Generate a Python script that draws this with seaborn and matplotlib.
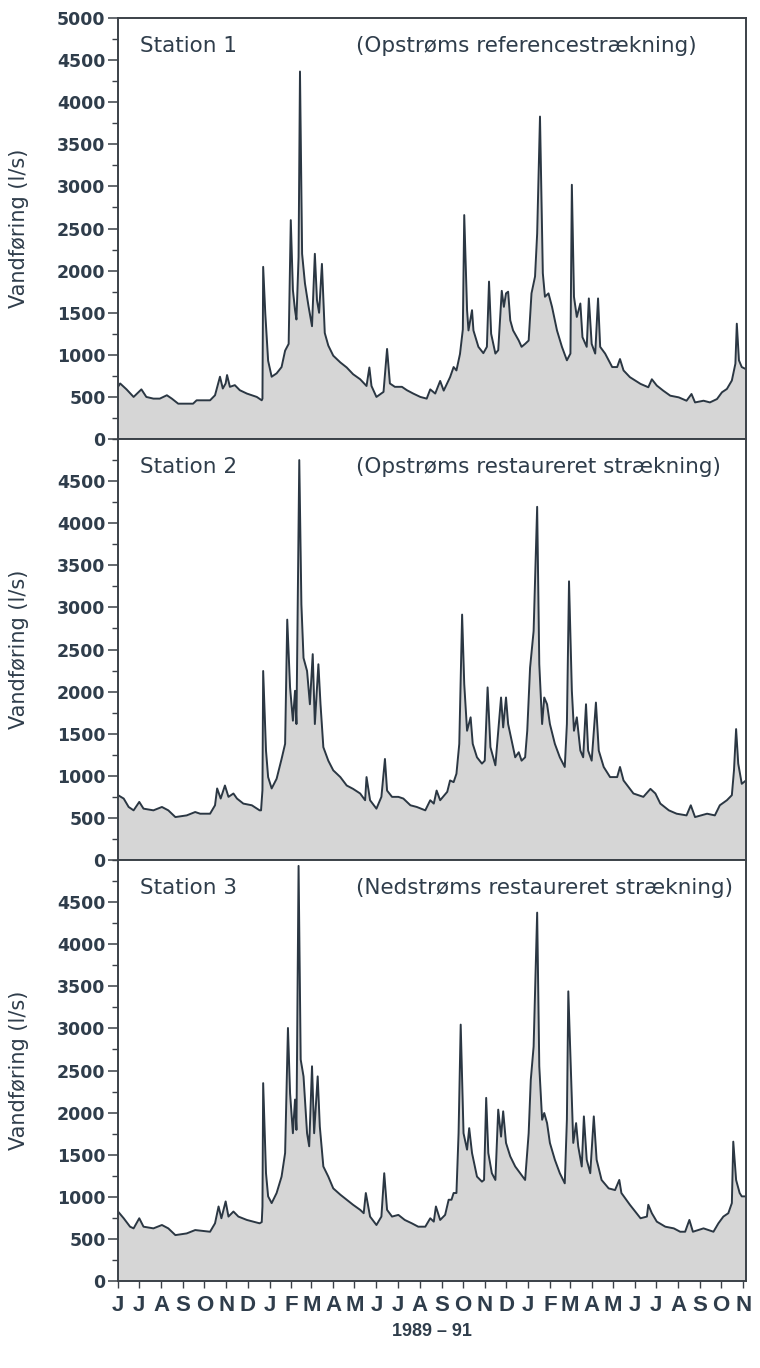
import numpy as np
import pandas as pd
import matplotlib
matplotlib.use("Agg")
import matplotlib.pyplot as plt
import matplotlib.dates as mdates
from matplotlib.ticker import MultipleLocator, FixedLocator, FuncFormatter
import seaborn as sns

# Måleperiode: dage regnes fra 1. juni 1989
start = pd.Timestamp("1989-06-01")
slut = pd.Timestamp("1991-11-05")

stationer = ["Station 1", "Station 2", "Station 3"]
strækninger = [
    "(Opstrøms referencestrækning)",
    "(Opstrøms restaureret strækning)",
    "(Nedstrøms restaureret strækning)",
]
måned_bogstaver = ["J", "F", "M", "A", "M", "J", "J", "A", "S", "O", "N", "D"]
årstal = "1989 – 91"

# Station 1: dag efter start og vandføring (l/s)
dag_1 = [0, 3, 12, 22, 33, 40, 50, 59, 69, 76, 85, 106, 111, 130, 137, 144, 148, 152,
         154, 158, 165, 172, 182, 196, 203, 204, 205, 208, 212, 217, 224, 231, 236, 241,
         244, 247, 250, 252, 255, 257, 260, 264, 269, 274, 278, 281, 284, 288, 292, 297,
         304, 314, 323, 332, 342, 351, 355, 358, 365, 375, 380, 384, 391, 401, 408, 417,
         427, 436, 441, 448, 455, 460, 469, 474, 478, 483, 487, 489, 493, 495, 500, 502,
         509, 516, 521, 524, 527, 533, 537, 542, 545, 548, 551, 554, 558, 566, 570, 575,
         580, 584, 589, 592, 596, 600, 603, 608, 613, 620, 627, 634, 639, 641, 644, 648,
         653, 656, 662, 665, 669, 674, 678, 681, 688, 698, 705, 709, 714, 723, 738, 749,
         754, 761, 770, 780, 792, 803, 810, 815, 827, 836, 846, 853, 860, 867, 872, 874,
         877, 881, 887]
flow_1 = [620, 660, 590, 500, 590, 500, 480, 480, 520, 480, 420, 420, 460, 460, 520, 740,
          600, 660, 760, 620, 640, 580, 540, 500, 460, 480, 2045, 1490, 930, 740, 780, 855,
          1050, 1130, 2600, 1770, 1530, 1420, 2160, 4365, 2200, 1850, 1580, 1340, 2200,
          1650, 1500, 2080, 1260, 1110, 990, 910, 850, 770, 710, 630, 850, 630, 500, 560,
          1070, 660, 620, 620, 580, 540, 500, 480, 590, 540, 690, 575, 735, 855, 815, 1010,
          1300, 2660, 1530, 1290, 1530, 1290, 1095, 1020, 1095, 1870, 1250, 1015, 1055,
          1760, 1570, 1730, 1750, 1410, 1290, 1170, 1095, 1130, 1170, 1730, 1930, 2440,
          3830, 1970, 1690, 1730, 1570, 1290, 1095, 935, 1015, 3020, 1690, 1450, 1610,
          1210, 1095, 1670, 1130, 1015, 1670, 1095, 1015, 855, 855, 950, 815, 735, 655,
          615, 710, 635, 575, 515, 495, 455, 535, 435, 455, 435, 475, 555, 595, 695, 895,
          1370, 935, 855, 830]

# Station 2
dag_2 = [0, 8, 15, 22, 30, 36, 50, 62, 71, 81, 97, 109, 116, 130, 137, 140, 145, 151,
         156, 163, 168, 177, 189, 200, 202, 204, 205, 209, 212, 217, 224, 231, 236, 239,
         243, 247, 250, 252, 256, 259, 262, 267, 271, 275, 278, 283, 286, 290, 297, 304,
         314, 323, 332, 342, 349, 351, 356, 365, 372, 377, 380, 387, 396, 403, 413, 422,
         434, 441, 446, 450, 455, 465, 469, 474, 478, 482, 486, 489, 493, 498, 501, 507,
         514, 518, 522, 526, 533, 537, 541, 544, 548, 551, 556, 561, 566, 570, 575, 578,
         582, 587, 592, 595, 599, 602, 606, 610, 617, 624, 631, 634, 637, 641, 644, 648,
         653, 657, 661, 664, 669, 675, 679, 686, 695, 705, 709, 714, 728, 742, 752, 759,
         766, 778, 789, 803, 809, 815, 832, 843, 850, 860, 867, 870, 873, 876, 881, 887]
flow_2 = [770, 730, 630, 590, 690, 610, 590, 630, 590, 510, 530, 570, 550, 550, 650, 850,
          730, 885, 750, 790, 730, 670, 650, 590, 590, 830, 2245, 1300, 985, 850, 965, 1200,
          1380, 2855, 2050, 1655, 2010, 1615, 4750, 3035, 2400, 2245, 1850, 2445, 1615,
          2325, 1850, 1340, 1180, 1065, 985, 885, 845, 790, 710, 985, 710, 610, 750, 1200,
          825, 750, 750, 730, 650, 630, 590, 710, 670, 825, 710, 810, 945, 925, 1025, 1380,
          2915, 2090, 1535, 1695, 1380, 1220, 1145, 1180, 2050, 1340, 1125, 1535, 1930,
          1575, 1930, 1615, 1420, 1220, 1280, 1180, 1220, 1535, 2285, 2720, 4195, 2325,
          1615, 1930, 1850, 1615, 1380, 1220, 1105, 1615, 3310, 2010, 1535, 1695, 1300,
          1220, 1850, 1300, 1180, 1870, 1300, 1105, 985, 985, 1105, 945, 790, 750, 845,
          790, 670, 590, 550, 530, 650, 510, 550, 530, 650, 710, 770, 1065, 1555, 1145,
          905, 945]

# Station 3
dag_3 = [0, 8, 17, 22, 30, 36, 50, 62, 71, 81, 97, 109, 130, 137, 142, 146, 152, 156,
         163, 170, 182, 200, 203, 204, 205, 209, 212, 217, 224, 231, 236, 240, 243, 247,
         250, 252, 255, 258, 262, 267, 270, 274, 277, 282, 285, 290, 297, 304, 314, 323,
         332, 342, 347, 350, 356, 365, 372, 376, 380, 387, 396, 405, 415, 424, 434, 441,
         446, 449, 455, 462, 467, 471, 474, 478, 481, 484, 488, 493, 496, 500, 507, 514,
         517, 520, 523, 528, 533, 537, 541, 544, 548, 554, 561, 568, 575, 580, 583, 587,
         592, 595, 599, 602, 606, 610, 617, 624, 631, 634, 636, 640, 643, 647, 650, 655,
         658, 662, 667, 672, 676, 683, 693, 702, 708, 711, 723, 738, 747, 749, 754, 761,
         773, 785, 794, 801, 807, 812, 827, 841, 848, 855, 862, 867, 869, 873, 878, 881,
         887]
flow_3 = [825, 745, 645, 625, 745, 645, 625, 665, 625, 545, 565, 605, 585, 685, 885, 745,
          945, 765, 825, 765, 725, 685, 700, 885, 2350, 1280, 1005, 925, 1045, 1240, 1520,
          3005, 2230, 1755, 2155, 1795, 4930, 2630, 2430, 1755, 1600, 2550, 1755, 2430,
          1835, 1360, 1240, 1100, 1025, 965, 905, 845, 805, 1045, 765, 665, 765, 1280, 845,
          765, 785, 725, 685, 645, 645, 745, 705, 885, 725, 785, 965, 965, 1045, 1045, 1755,
          3045, 1755, 1560, 1815, 1520, 1240, 1180, 1200, 2175, 1520, 1280, 1200, 2035,
          1715, 2015, 1640, 1480, 1360, 1280, 1200, 1755, 2390, 2785, 4375, 2550, 1915,
          1995, 1875, 1640, 1440, 1280, 1160, 1915, 3440, 2390, 1640, 1875, 1600, 1360,
          1955, 1440, 1280, 1955, 1440, 1200, 1100, 1080, 1200, 1045, 905, 745, 765, 905,
          805, 705, 645, 625, 585, 585, 725, 585, 625, 585, 685, 765, 805, 925, 1655, 1200,
          1045, 1005, 1005]

tabeller = []
for navn, dage, flow in zip(stationer, [dag_1, dag_2, dag_3], [flow_1, flow_2, flow_3]):
    tabeller.append(pd.DataFrame({
        "station": navn,
        "dato": start + pd.to_timedelta(dage, unit="D"),
        "vandføring": flow,
    }))
df = pd.concat(tabeller, ignore_index=True)

sns.set_theme(style="ticks")
plt.rcParams["font.family"] = ["DejaVu Sans"]
plt.rcParams["font.weight"] = "bold"

tekst = "#2f3d4b"
linje = "#2b3743"
fyld = "#d6d6d6"
ramme = "#3b4148"

fig, axes = plt.subplots(3, 1, figsize=(7.6, 13.68), dpi=100, sharex=True)
fig.subplots_adjust(left=0.1553, right=0.9816, top=0.9868, bottom=0.0636, hspace=0)

for i, (ax, navn, strækning) in enumerate(zip(axes, stationer, strækninger)):
    sub = df[df["station"] == navn].sort_values("dato")
    ax.fill_between(sub["dato"], 0, sub["vandføring"], color=fyld, linewidth=0, zorder=1)
    sns.lineplot(data=sub, x="dato", y="vandføring", ax=ax, color=linje,
                 linewidth=1.4, estimator=None, sort=True, zorder=2)

    ax.set_xlim(start, slut)
    ax.set_ylim(0, 5000)
    øverst = 5000 if i == 0 else 4500
    ax.yaxis.set_major_locator(FixedLocator(np.arange(0, øverst + 1, 500)))
    ax.yaxis.set_minor_locator(MultipleLocator(250))
    ax.tick_params(axis="y", which="major", direction="out", length=7, width=1.1,
                   labelsize=12.5, labelcolor=tekst, color=ramme, pad=2)
    ax.tick_params(axis="y", which="minor", direction="out", length=4, width=1.0,
                   color=ramme)

    ax.set_ylabel("Vandføring (l/s)", fontsize=15, color=tekst, fontweight="normal")
    ax.yaxis.set_label_coords(-0.142, 0.5)
    ax.set_xlabel("")

    for side in ["left", "right", "top", "bottom"]:
        ax.spines[side].set_visible(True)
        ax.spines[side].set_linewidth(1.4)
        ax.spines[side].set_color(ramme)

    ax.text(0.035, 0.933, navn, transform=ax.transAxes, fontsize=15.5,
            fontweight="normal", color=tekst, ha="left", va="center")
    ax.text(0.379, 0.933, strækning, transform=ax.transAxes, fontsize=15.5,
            fontweight="normal", color=tekst, ha="left", va="center")

    if i < 2:
        ax.tick_params(axis="x", which="both", length=0, labelbottom=False)

bund = axes[2]
bund.xaxis.set_major_locator(mdates.MonthLocator())
bund.xaxis.set_major_formatter(
    FuncFormatter(lambda x, pos: måned_bogstaver[mdates.num2date(x).month - 1]))
bund.tick_params(axis="x", which="major", direction="out", length=5, width=1.0,
                 color=ramme, labelsize=16, labelcolor=tekst, pad=5,
                 labelfontfamily="Liberation Sans")
bund.set_xlabel(årstal, fontsize=13, fontfamily="Liberation Sans", fontweight="bold",
                color=tekst, labelpad=5)

fig.savefig("out.png", dpi=100)
